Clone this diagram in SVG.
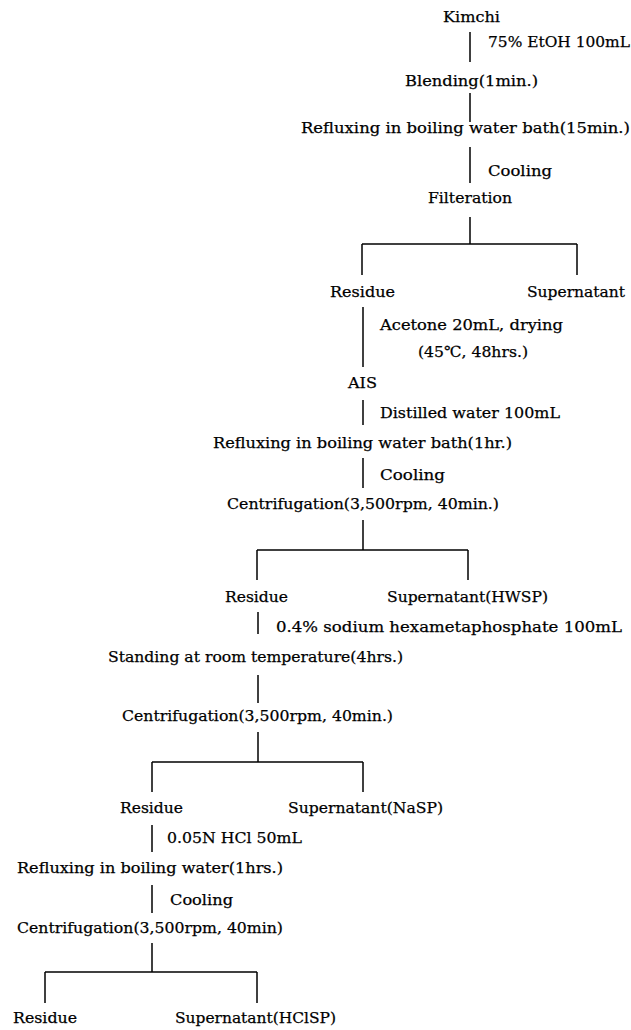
<svg xmlns="http://www.w3.org/2000/svg" width="631" height="1030" viewBox="0 0 631 1030">
<style>
text{font-family:"DejaVu Serif","Liberation Serif",serif;font-size:15.5px;fill:#000;stroke:#000;stroke-width:0.25;}
.c line{stroke:#000;stroke-width:1.5;fill:none;}
</style>
<rect width="631" height="1030" fill="#fff"/>
<g id="n-kimchi"><text x="443" y="22" textLength="57" lengthAdjust="spacingAndGlyphs">Kimchi</text></g>
<g id="n-blending"><text x="405" y="86" textLength="133" lengthAdjust="spacingAndGlyphs">Blending(1min.)</text></g>
<g id="n-reflux1"><text x="301" y="133" textLength="329" lengthAdjust="spacingAndGlyphs">Refluxing in boiling water bath(15min.)</text></g>
<g id="n-filter"><text x="428" y="203" textLength="84" lengthAdjust="spacingAndGlyphs">Filteration</text></g>
<g id="n-residue1"><text x="330" y="297" textLength="65" lengthAdjust="spacingAndGlyphs">Residue</text></g>
<g id="n-super1"><text x="527" y="297" textLength="98" lengthAdjust="spacingAndGlyphs">Supernatant</text></g>
<g id="n-ais"><text x="348" y="388" textLength="29" lengthAdjust="spacingAndGlyphs">AIS</text></g>
<g id="n-reflux2"><text x="213" y="448" textLength="299" lengthAdjust="spacingAndGlyphs">Refluxing in boiling water bath(1hr.)</text></g>
<g id="n-centri1"><text x="227" y="509" textLength="272" lengthAdjust="spacingAndGlyphs">Centrifugation(3,500rpm, 40min.)</text></g>
<g id="n-residue2"><text x="225" y="602" textLength="63" lengthAdjust="spacingAndGlyphs">Residue</text></g>
<g id="n-hwsp"><text x="387" y="602" textLength="161" lengthAdjust="spacingAndGlyphs">Supernatant(HWSP)</text></g>
<g id="n-standing"><text x="108" y="662" textLength="295" lengthAdjust="spacingAndGlyphs">Standing at room temperature(4hrs.)</text></g>
<g id="n-centri2"><text x="122" y="721" textLength="271" lengthAdjust="spacingAndGlyphs">Centrifugation(3,500rpm, 40min.)</text></g>
<g id="n-residue3"><text x="120" y="813" textLength="63" lengthAdjust="spacingAndGlyphs">Residue</text></g>
<g id="n-nasp"><text x="288" y="813" textLength="155" lengthAdjust="spacingAndGlyphs">Supernatant(NaSP)</text></g>
<g id="n-reflux3"><text x="17" y="873" textLength="266" lengthAdjust="spacingAndGlyphs">Refluxing in boiling water(1hrs.)</text></g>
<g id="n-centri3"><text x="17" y="933" textLength="266" lengthAdjust="spacingAndGlyphs">Centrifugation(3,500rpm, 40min)</text></g>
<g id="n-residue4"><text x="13" y="1023" textLength="64" lengthAdjust="spacingAndGlyphs">Residue</text></g>
<g id="n-hclsp"><text x="175" y="1023" textLength="161" lengthAdjust="spacingAndGlyphs">Supernatant(HClSP)</text></g>
<g id="connectors" class="c">
<line x1="470" y1="32" x2="470" y2="62"/>
<line x1="470" y1="93" x2="470" y2="122"/>
<line x1="470" y1="147" x2="470" y2="183"/>
<line x1="470" y1="217" x2="470" y2="244"/>
<line x1="362" y1="244" x2="577" y2="244"/>
<line x1="362" y1="244" x2="362" y2="275"/>
<line x1="577" y1="244" x2="577" y2="275"/>
<line x1="363" y1="307" x2="363" y2="367"/>
<line x1="363" y1="400" x2="363" y2="425"/>
<line x1="363" y1="458" x2="363" y2="488"/>
<line x1="363" y1="520" x2="363" y2="550"/>
<line x1="257" y1="550" x2="468" y2="550"/>
<line x1="257" y1="550" x2="257" y2="580"/>
<line x1="468" y1="550" x2="468" y2="580"/>
<line x1="258" y1="612" x2="258" y2="634"/>
<line x1="258" y1="675" x2="258" y2="703"/>
<line x1="258" y1="732" x2="258" y2="762"/>
<line x1="152" y1="762" x2="363" y2="762"/>
<line x1="152" y1="762" x2="152" y2="792"/>
<line x1="363" y1="762" x2="363" y2="792"/>
<line x1="152" y1="825" x2="152" y2="852"/>
<line x1="152" y1="885" x2="152" y2="913"/>
<line x1="152" y1="943" x2="152" y2="972"/>
<line x1="45" y1="972" x2="257" y2="972"/>
<line x1="45" y1="972" x2="45" y2="1003"/>
<line x1="257" y1="972" x2="257" y2="1003"/>
<text x="488" y="47" textLength="142" lengthAdjust="spacingAndGlyphs">75% EtOH 100mL</text>
<text x="488" y="176" textLength="64" lengthAdjust="spacingAndGlyphs">Cooling</text>
<text x="380" y="330" textLength="183" lengthAdjust="spacingAndGlyphs">Acetone 20mL, drying</text>
<text x="418" y="357" textLength="110" lengthAdjust="spacingAndGlyphs">(45℃, 48hrs.)</text>
<text x="380" y="418" textLength="180" lengthAdjust="spacingAndGlyphs">Distilled water 100mL</text>
<text x="380" y="480" textLength="65" lengthAdjust="spacingAndGlyphs">Cooling</text>
<text x="276" y="632" textLength="346" lengthAdjust="spacingAndGlyphs">0.4% sodium hexametaphosphate 100mL</text>
<text x="167" y="843" textLength="135" lengthAdjust="spacingAndGlyphs">0.05N HCl 50mL</text>
<text x="170" y="905" textLength="63" lengthAdjust="spacingAndGlyphs">Cooling</text>
</g>
</svg>
